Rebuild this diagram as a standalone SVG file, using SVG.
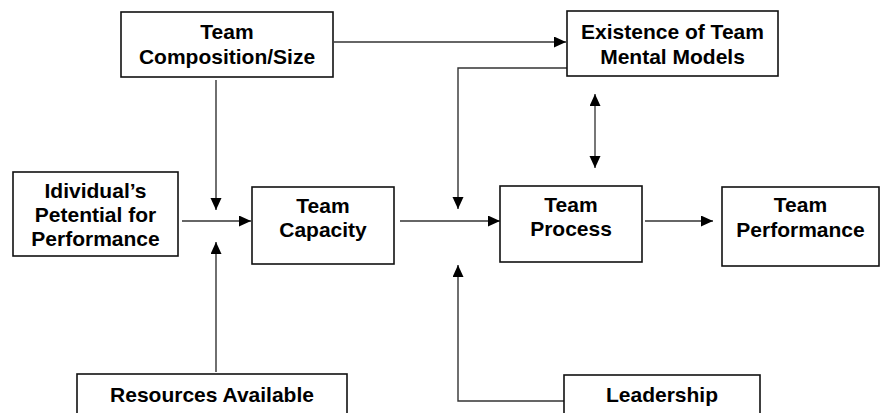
<svg xmlns="http://www.w3.org/2000/svg" width="882" height="413" viewBox="0 0 882 413">
  <style>
    .box { fill: #ffffff; stroke: #111111; stroke-width: 1.6; }
    .lbl { font-family: "Liberation Sans", Arial, sans-serif; font-weight: bold; font-size: 21px; fill: #000000; text-anchor: middle; }
    .conn { fill: none; stroke: #333333; stroke-width: 1.4; }
    .gray { fill: none; stroke: #777777; stroke-width: 2; }
  </style>
  <defs>
    <marker id="ah" markerUnits="userSpaceOnUse" markerWidth="14" markerHeight="12" refX="12" refY="5.5" orient="auto-start-reverse">
      <path d="M0,0 L12,5.5 L0,11 Z" fill="#000000"/>
    </marker>
  </defs>

  <g id="connectors">
    <line class="conn" x1="334" y1="42" x2="566" y2="42" marker-end="url(#ah)"/>
    <polyline class="conn" points="567,68 458,68 458,209" marker-end="url(#ah)"/>
    <line class="gray" x1="595" y1="94" x2="595" y2="168" marker-start="url(#ah)" marker-end="url(#ah)"/>
    <line class="conn" x1="216" y1="80" x2="216" y2="210" marker-end="url(#ah)"/>
    <line class="conn" x1="216" y1="372" x2="216" y2="242" marker-end="url(#ah)"/>
    <line class="conn" x1="182" y1="221" x2="251" y2="221" marker-end="url(#ah)"/>
    <line class="conn" x1="400" y1="221" x2="500" y2="221" marker-end="url(#ah)"/>
    <line class="conn" x1="645" y1="221" x2="713" y2="221" marker-end="url(#ah)"/>
    <polyline class="conn" points="564,401 458,401 458,265" marker-end="url(#ah)"/>
  </g>

  <g id="team-composition">
    <rect class="box" x="121" y="12" width="212" height="65"/>
    <text class="lbl" x="227" y="39">Team</text>
    <text class="lbl" x="227" y="64">Composition/Size</text>
  </g>

  <g id="mental-models">
    <rect class="box" x="567" y="11" width="211" height="65"/>
    <text class="lbl" x="672.5" y="39">Existence of Team</text>
    <text class="lbl" x="672.5" y="64">Mental Models</text>
  </g>

  <g id="individual-potential">
    <rect class="box" x="13" y="172" width="165" height="84"/>
    <text class="lbl" x="95.5" y="198">Idividual’s</text>
    <text class="lbl" x="95.5" y="222">Petential for</text>
    <text class="lbl" x="95.5" y="246">Performance</text>
  </g>

  <g id="team-capacity">
    <rect class="box" x="252" y="187" width="142" height="77"/>
    <text class="lbl" x="323" y="213">Team</text>
    <text class="lbl" x="323" y="237">Capacity</text>
  </g>

  <g id="team-process">
    <rect class="box" x="500" y="186" width="142" height="76"/>
    <text class="lbl" x="571" y="212">Team</text>
    <text class="lbl" x="571" y="236">Process</text>
  </g>

  <g id="team-performance">
    <rect class="box" x="722" y="187" width="157" height="79"/>
    <text class="lbl" x="800.5" y="212">Team</text>
    <text class="lbl" x="800.5" y="237">Performance</text>
  </g>

  <g id="resources">
    <rect class="box" x="77" y="374" width="270" height="50"/>
    <text class="lbl" x="212" y="402">Resources Available</text>
  </g>

  <g id="leadership">
    <rect class="box" x="564" y="375" width="196" height="50"/>
    <text class="lbl" x="662" y="402">Leadership</text>
  </g>
</svg>
